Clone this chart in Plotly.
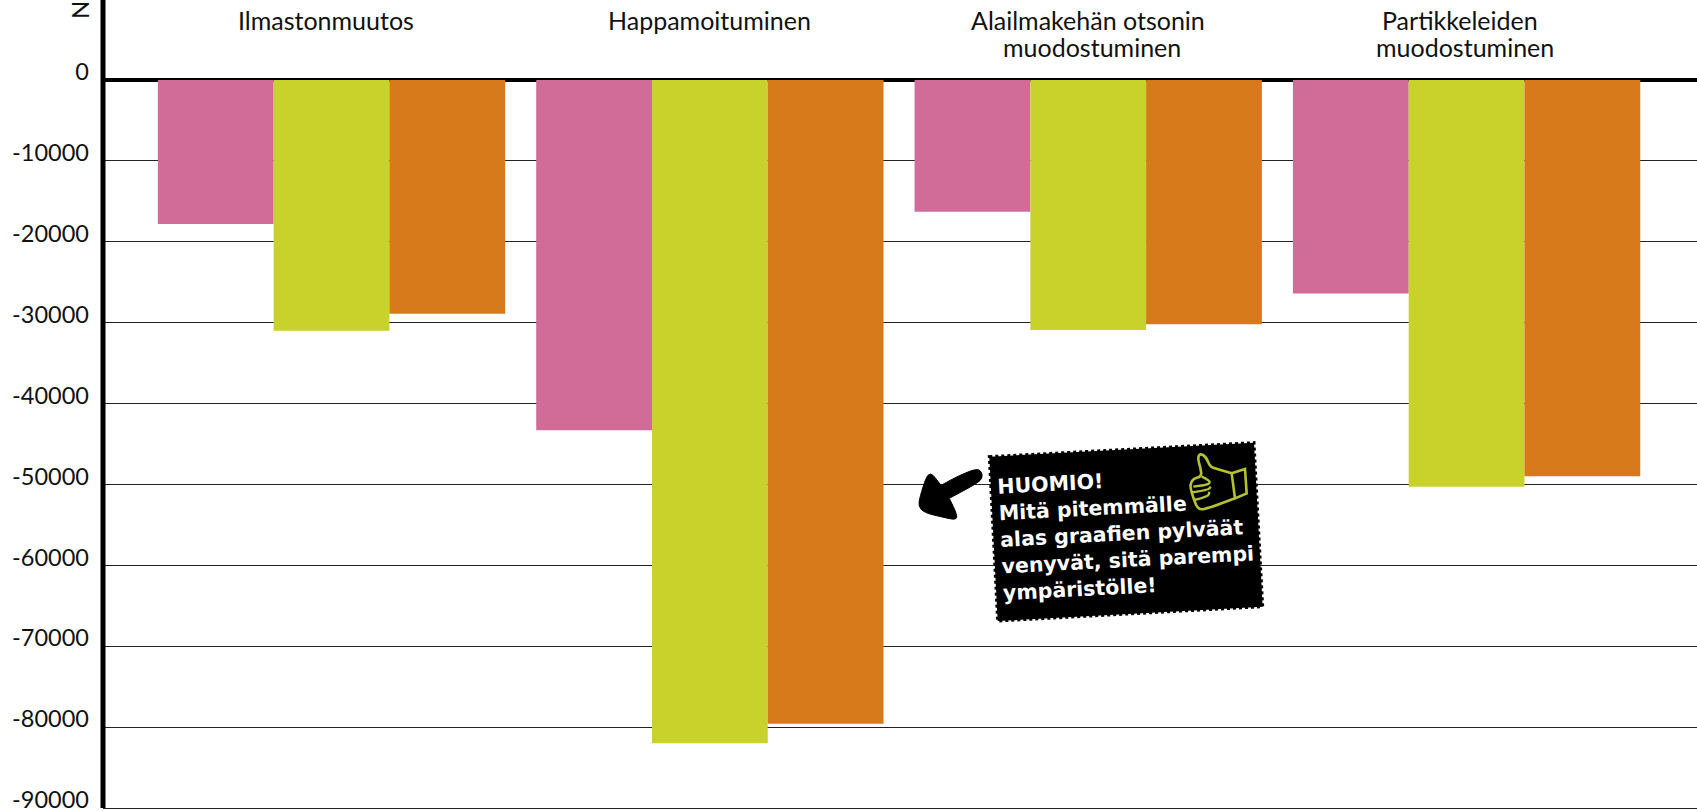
import plotly.graph_objects as go

categories = ["Ilmastonmuutos", "Happamoituminen", "Alailmakehän otsonin<br>muodostuminen", "Partikkeleiden<br>muodostuminen"]
pink_values = [-17800, -43300, -16300, -26400]
lime_values = [-31000, -82000, -30900, -50300]
orange_values = [-28900, -79600, -30200, -49000]
y_ticks = [0, -10000, -20000, -30000, -40000, -50000, -60000, -70000, -80000, -90000]
note_text = "HUOMIO!<br>Mitä pitemmälle<br>alas graafien pylväät<br>venyvät, sitä parempi<br>ympäristölle!"

W, H = 1697, 811
EXTRA = 16
L = 103
PW, PH = W - L, H
FONT = "Lato"
INK = "#111"
THUMB = "#B4C232"

def px(x):
    return (x - L) / PW

def py(y):
    return 1 - y / PH

def path(points, close=True):
    s = "M " + " L ".join(f"{px(x):.5f},{py(y):.5f}" for x, y in points)
    return s + (" Z" if close else "")

def smooth(points, close=True):
    pts = list(points)
    if close:
        pts = pts + [pts[0]]
        mid = ((pts[-2][0] + pts[-1][0]) / 2, (pts[-2][1] + pts[-1][1]) / 2)
        s = f"M {px(mid[0]):.5f},{py(mid[1]):.5f}"
        seq = pts
        start = 0
    else:
        s = f"M {px(pts[0][0]):.5f},{py(pts[0][1]):.5f}"
        seq = pts
        start = 1
    for i in range(start, len(seq) - 1):
        a, b = seq[i], seq[i + 1]
        s += f" Q {px(a[0]):.5f},{py(a[1]):.5f} {px((a[0]+b[0])/2):.5f},{py((a[1]+b[1])/2):.5f}"
    if close:
        s += " Z"
    else:
        s += f" L {px(pts[-1][0]):.5f},{py(pts[-1][1]):.5f}"
    return s

def crop(points, ox, oy):
    return [(ox + x / 3, oy + y / 3) for x, y in points]

fig = go.Figure()
xs = list(range(len(categories)))
for vals, col in [(pink_values, "#D16B98"), (lime_values, "#C9D22B"), (orange_values, "#D67A1C")]:
    fig.add_bar(x=xs, y=vals, marker=dict(color=col, line_width=0), showlegend=False)

card = crop([(268, 110), (1062, 68), (1088, 560), (293, 603)], 900, 420)
arrow = crop([(214, 34), (200, 26), (150, 45), (93, 76), (93, 76), (78, 56), (62, 38), (48, 52), (30, 110), (25, 138),
              (42, 158), (100, 172), (138, 180), (142, 165), (118, 115), (118, 115), (205, 68), (218, 52)], 910, 460)
cuff = crop([(155, 85), (195, 72), (200, 145), (165, 160)], 1180, 445)
hand = crop([(155, 85), (110, 72), (90, 65), (78, 35), (60, 25), (53, 40), (62, 70), (65, 95), (40, 100), (30, 120),
             (35, 142), (42, 165), (55, 195), (85, 190), (165, 160)], 1180, 445)
fingers = [crop([(65, 95), (88, 105), (90, 118), (40, 125)], 1180, 445),
           crop([(35, 142), (85, 135), (92, 125)], 1180, 445),
           crop([(42, 165), (85, 155), (88, 140)], 1180, 445)]

shapes = [
    dict(type="line", xref="paper", yref="y", x0=px(103), x1=px(103), y0=-90000, y1=9890, line=dict(color="#000", width=5)),
    dict(type="path", path=path(card), xref="paper", yref="paper", fillcolor="#000", line=dict(color="#000", width=3, dash="3px,3px")),
    dict(type="path", path=smooth(arrow), xref="paper", yref="paper", fillcolor="#000", line=dict(color="#000", width=1)),
    dict(type="path", path=path(cuff), xref="paper", yref="paper", line=dict(color=THUMB, width=2.6)),
    dict(type="path", path=smooth(hand, close=False), xref="paper", yref="paper", line=dict(color=THUMB, width=2.6)),
]
for f in fingers:
    shapes.append(dict(type="path", path=smooth(f, close=False), xref="paper", yref="paper", line=dict(color=THUMB, width=2.4)))

label_shift = [[-6], [0], [0, 4], [-7, -2]]
annotations = []
for i, c in enumerate(categories):
    for j, line in enumerate(c.split("<br>")):
        annotations.append(dict(x=i, y=1, xref="x", yref="paper", xanchor="center", yanchor="top",
                                xshift=label_shift[i][j], yshift=-3 - 27 * j, text=line, showarrow=False,
                                font=dict(family=FONT, size=25, color=INK)))
annotations.append(dict(x=px(79), y=py(10), xref="paper", yref="paper", xanchor="center", yanchor="middle", text="N",
                        textangle=-90, showarrow=False, font=dict(family=FONT, size=24, color=INK)))
annotations.append(dict(x=px(1126), y=py(533), xref="paper", yref="paper", xanchor="center", yanchor="middle",
                        text=note_text, textangle=-3, showarrow=False, align="left",
                        font=dict(family="DejaVu Sans", size=20.5, color="#fff", weight="bold")))

fig.update_layout(
    width=W, height=H + EXTRA, margin=dict(l=L, r=0, t=0, b=EXTRA, pad=0),
    paper_bgcolor="#fff", plot_bgcolor="#fff", barmode="group", bargap=0.082, bargroupgap=0,
    shapes=shapes, annotations=annotations, showlegend=False,
    xaxis=dict(range=[-0.604, 3.609], showticklabels=False, showgrid=False, zeroline=False, ticks="", showline=False, tickvals=xs),
    yaxis=dict(range=[-90371, 9890], tickvals=y_ticks, ticktext=[str(v) for v in y_ticks],
               showgrid=True, gridcolor="#222", gridwidth=1.2, zeroline=True, zerolinecolor="#000", zerolinewidth=4,
               showline=False, ticks="", ticklen=0, ticklabelstandoff=13, ticklabelshift=-8,
               tickfont=dict(family=FONT, size=23.5, color=INK)),
)
fig.write_html("out.html", config={"displayModeBar": False},
               post_script="document.documentElement.style.overflow='hidden';document.body.style.margin='0';document.body.style.overflow='hidden';")
